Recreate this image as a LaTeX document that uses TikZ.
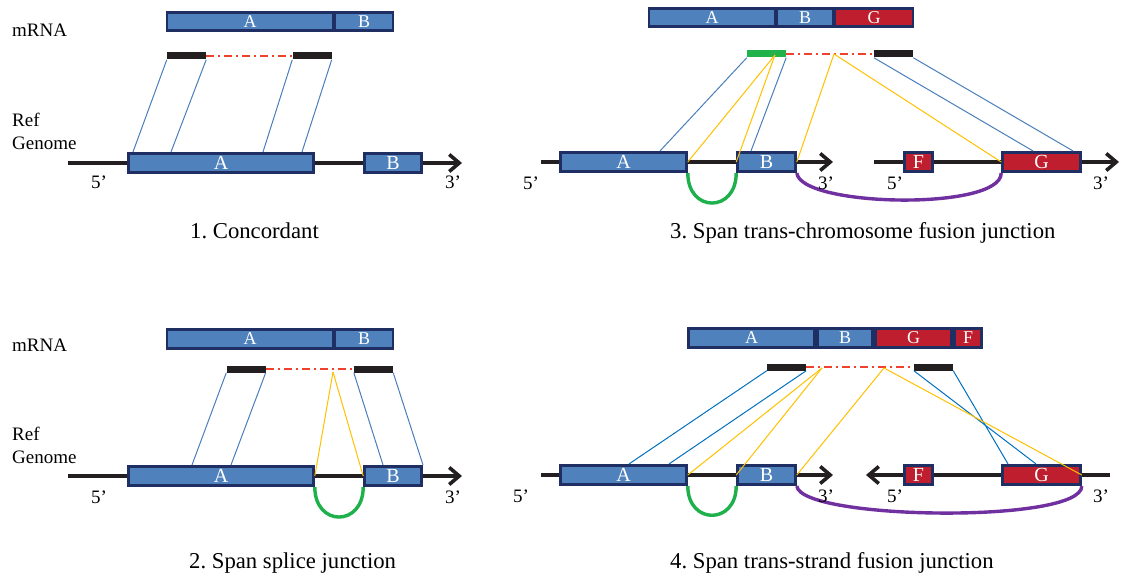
\documentclass[tikz,border=0pt]{standalone}
\usepackage{fontspec}
\setmainfont{Liberation Serif}
\usetikzlibrary{arrows.meta,calc}
\definecolor{exblue}{HTML}{4F81BD}
\definecolor{exred}{HTML}{BE1E2D}
\definecolor{exborder}{HTML}{1F2E63}
\definecolor{readblack}{HTML}{231F20}
\definecolor{readgreen}{HTML}{22B24C}
\definecolor{arcgreen}{HTML}{1DB04B}
\definecolor{arcpurple}{HTML}{7030A0}
\definecolor{linkblue}{HTML}{4A7EBB}
\definecolor{linkblueb}{HTML}{0070C0}
\definecolor{linkyellow}{HTML}{FFC000}
\definecolor{gapred}{HTML}{F0402E}
\frenchspacing
\begin{document}
\begin{tikzpicture}[x=1pt,y=-1pt,
  exon/.style={draw=exborder, line width=2.6pt, fill=exblue, text=white, inner sep=0pt,
    minimum height=19.5pt, font=\fontsize{20}{22}\selectfont},
  redexon/.style={exon, fill=exred},
  mrna/.style={exon, minimum height=18.5pt, font=\fontsize{18}{20}\selectfont},
  redmrna/.style={mrna, fill=exred},
  readbar/.style={fill=readblack, inner sep=0pt, minimum height=7pt, minimum width=39pt},
  greenbar/.style={readbar, fill=readgreen},
  gap/.style={draw=gapred, line width=1.7pt, dash pattern=on 8pt off 4pt on 2pt off 4pt},
  genome/.style={draw=readblack, line width=3.6pt, -{Straight Barb[length=10pt,width=17pt]}},
  link/.style={draw=linkblue, line width=1pt},
  linkb/.style={draw=linkblueb, line width=1pt},
  ylink/.style={draw=linkyellow, line width=1pt},
  splice/.style={draw=arcgreen, line width=3.4pt},
  fusion/.style={draw=arcpurple, line width=3.4pt},
  lab/.style={inner sep=0pt, anchor=base west, font=\fontsize{19}{22}\selectfont},
  captext/.style={inner sep=0pt, anchor=base west, font=\fontsize{22.7}{26}\selectfont}
]
\useasboundingbox (0,0) rectangle (1121,577);

% ================= Panel 1 =================
\node[lab] (l1m) at (12,37) {mRNA};
\node[mrna, minimum width=166pt] (m1a) at (250,21.5) {A};
\node[mrna, minimum width=58pt] (m1b) at (364,21.5) {B};
\node[readbar] (r1a) at (186.5,56) {};
\node[readbar] (r1b) at (312,56) {};
\draw[gap] (r1a.east) -- (r1b.west);
\node[lab] (l1r) at (12,127) {Ref};
\node[lab] (l1g) at (12,150) {Genome};
\coordinate (g1s) at (68,163);
\coordinate (g1e) at (462,163);
\draw[genome] (g1s) -- (g1e);
\node[exon, minimum width=185pt] (e1a) at (221,163) {A};
\node[exon, minimum width=57pt] (e1b) at (393,163) {B};
\draw[link] (r1a.south west) -- (133,0 |- e1a.north);
\draw[link] (r1a.south east) -- (171,0 |- e1a.north);
\draw[link] (r1b.south west) -- (263,0 |- e1a.north);
\draw[link] (r1b.south east) -- (302,0 |- e1a.north);
\node[lab] (p1a) at (91,189) {5’};
\node[lab] (p1b) at (445,189) {3’};
\node[captext] (c1) at (190,239) {1. Concordant};

% ================= Panel 2 =================
\node[lab] (l2m) at (12,351) {mRNA};
\node[mrna, minimum width=166pt] (m2a) at (250,339) {A};
\node[mrna, minimum width=58pt] (m2b) at (364,339) {B};
\node[readbar] (r2a) at (246,369) {};
\node[readbar] (r2b) at (373.5,369) {};
\draw[gap] (r2a.east) -- (r2b.west);
\coordinate (y2) at (333,372);
\node[lab] (l2r) at (12,440) {Ref};
\node[lab] (l2g) at (12,463) {Genome};
\coordinate (g2s) at (68,476);
\coordinate (g2e) at (462,476);
\draw[genome] (g2s) -- (g2e);
\node[exon, minimum width=185pt] (e2a) at (221,476) {A};
\node[exon, minimum width=57pt] (e2b) at (393,476) {B};
\draw[link] (r2a.south west) -- (192,0 |- e2a.north);
\draw[link] (r2a.south east) -- (231,0 |- e2a.north);
\draw[link] (r2b.south west) -- (383,0 |- e2b.north);
\draw[link] (r2b.south east) -- (423,0 |- e2b.north);
\draw[ylink] (y2) -- (e2a.east);
\draw[ylink] (y2) -- (e2b.west);
\draw[splice] (e2a.south east) .. controls +(0,40) and +(0,40) .. (e2b.south west);
\node[lab] (p2a) at (91,503) {5’};
\node[lab] (p2b) at (445,503) {3’};
\node[captext] (c2) at (189,568) {2. Span splice junction};

% ================= Panel 3 =================
\node[mrna, minimum width=126pt] (m3a) at (712,17.5) {A};
\node[mrna, minimum width=56pt] (m3b) at (805,17.5) {B};
\node[redmrna, minimum width=78pt] (m3g) at (874,17.5) {G};
\node[greenbar] (r3a) at (766.5,54) {};
\node[readbar] (r3b) at (893.5,54) {};
\draw[gap] (r3a.east) -- (r3b.west);
\coordinate (y3a) at (775,55);
\coordinate (y3b) at (834,54);
\coordinate (g3s) at (541,162);
\coordinate (g3e) at (833,162);
\coordinate (g3t) at (874,162);
\coordinate (g3u) at (1119,162);
\draw[genome] (g3s) -- (g3e);
\draw[genome] (g3t) -- (g3u);
\node[exon, minimum width=126pt] (e3a) at (623.5,162) {A};
\node[exon, minimum width=58pt] (e3b) at (766.5,162) {B};
\node[redexon, minimum width=28pt] (e3f) at (918.5,162) {F};
\node[redexon, minimum width=78pt] (e3g) at (1041.5,162) {G};
\draw[link] (r3a.south west) -- (660,0 |- e3a.north);
\draw[link] (r3a.south east) -- (751,0 |- e3b.north);
\draw[link] (r3b.south west) -- (1033,0 |- e3g.north);
\draw[link] (r3b.south east) -- (1073,0 |- e3g.north);
\draw[ylink] (y3a) -- (e3a.east);
\draw[ylink] (y3a) -- (e3b.west);
\draw[ylink] (y3b) -- (e3b.east);
\draw[ylink] (y3b) -- (e3g.west);
\draw[splice] (e3a.south east) .. controls +(0,40) and +(0,40) .. (e3b.south west);
\draw[fusion] (e3b.south east) .. controls +(4,34) and +(0,38) .. (e3g.south west);
\node[lab] (p3a) at (523,190) {5’};
\node[lab] (p3b) at (818,190) {3’};
\node[lab] (p3c) at (887,190) {5’};
\node[lab] (p3d) at (1093,190) {3’};
\node[captext] (c3) at (670,239) {3. Span trans-chromosome fusion junction};

% ================= Panel 4 =================
\node[mrna, minimum width=126pt] (m4a) at (751.5,338) {A};
\node[mrna, minimum width=55pt] (m4b) at (845,338) {B};
\node[redmrna, minimum width=76pt] (m4g) at (913.5,338) {G};
\node[redmrna, minimum width=27pt] (m4f) at (968,338) {F};
\node[readbar] (r4a) at (786.5,367) {};
\node[readbar] (r4b) at (933.5,367) {};
\draw[gap] (r4a.east) -- (r4b.west);
\coordinate (y4a) at (822,368);
\coordinate (y4b) at (884,368);
\coordinate (g4s) at (541,475);
\coordinate (g4e) at (833,475);
\coordinate (g4t) at (1110,475);
\coordinate (g4u) at (866,475);
\draw[genome] (g4s) -- (g4e);
\draw[genome] (g4t) -- (g4u);
\node[exon, minimum width=126pt] (e4a) at (623.5,475) {A};
\node[exon, minimum width=58pt] (e4b) at (766.5,475) {B};
\node[redexon, minimum width=28pt] (e4f) at (918.5,475) {F};
\node[redexon, minimum width=78pt] (e4g) at (1041.5,475) {G};
\draw[linkb] (r4a.south west) -- (629,0 |- e4a.north);
\draw[linkb] (r4a.south east) -- (669,0 |- e4a.north);
\draw[linkb] (r4b.south west) -- (1036,0 |- e4g.north);
\draw[linkb] (r4b.south east) -- (1008,0 |- e4g.north);
\draw[ylink] (y4a) -- (e4a.east);
\draw[ylink] (y4a) -- (e4b.west);
\draw[ylink] (y4b) -- (e4b.east);
\draw[ylink] (y4b) -- (e4g.east);
\draw[splice] (e4a.south east) .. controls +(0,39) and +(0,39) .. (e4b.south west);
\draw[fusion] (e4b.south east) .. controls +(4,34) and +(0,38) .. (e4g.south east);
\node[lab] (p4a) at (513,502) {5’};
\node[lab] (p4b) at (818,502) {3’};
\node[lab] (p4c) at (887,502) {5’};
\node[lab] (p4d) at (1093,502) {3’};
\node[captext] (c4) at (670,568) {4. Span trans-strand fusion junction};
\end{tikzpicture}
\end{document}
